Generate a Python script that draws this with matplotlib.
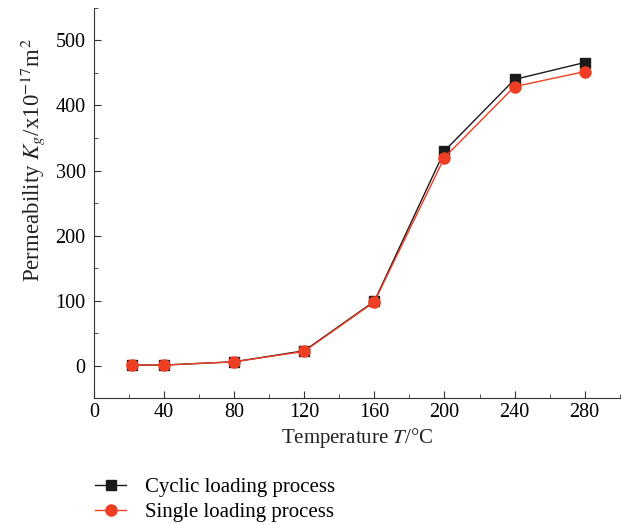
import matplotlib
matplotlib.use('Agg')
import matplotlib.pyplot as plt
from matplotlib.ticker import MultipleLocator

plt.rcParams['font.family'] = ['Liberation Serif', 'DejaVu Serif']
plt.rcParams['mathtext.fontset'] = 'stix'

# temperature (°C) and permeability (x10^-17 m^2)
temp = [22, 40, 80, 120, 160, 200, 240, 280]
cyclic = [1, 1, 6, 23, 99, 330, 440, 466]
single = [1, 1, 6, 22, 98, 320, 429, 452]

fig = plt.figure(figsize=(6.26, 5.24), dpi=100)
ax = fig.add_axes([0.150, 0.240, 0.840, 0.745])

ax.plot(temp, cyclic, color='#1a1a1a', lw=1.0, marker='s', ms=7,
        label='Cyclic loading process', zorder=3)
ax.plot(temp, single, color='#ee3f24', lw=1.0, marker='o', ms=8,
        label='Single loading process', zorder=4)

ax.set_xlim(0, 300)
ax.set_ylim(-50, 550)
ax.xaxis.set_major_locator(MultipleLocator(40))
ax.xaxis.set_minor_locator(MultipleLocator(20))
ax.yaxis.set_major_locator(MultipleLocator(100))
ax.yaxis.set_minor_locator(MultipleLocator(50))
ax.tick_params(which='both', direction='in', labelsize=14.5, color='#333333')
ax.tick_params(which='major', length=5)
ax.tick_params(which='minor', length=3)
ax.tick_params(axis='y', pad=6)
for s in ['top', 'right']:
    ax.spines[s].set_visible(False)
for s in ['left', 'bottom']:
    ax.spines[s].set_color('#333333')

ax.set_xlabel('Temperature $T$/°C', fontsize=15, color='#222222', labelpad=3)
ax.set_ylabel('Permeability $K_g$/x10$^{-17}$m$^2$', fontsize=16.5, color='#222222')
ax.yaxis.set_label_coords(-0.09, 0.61)

fig.legend(loc='upper left', bbox_to_anchor=(0.122, 0.124), frameon=False,
           fontsize=15, handlelength=1.5, handletextpad=0.9, labelspacing=0.25)

fig.savefig('out.png', dpi=100)
